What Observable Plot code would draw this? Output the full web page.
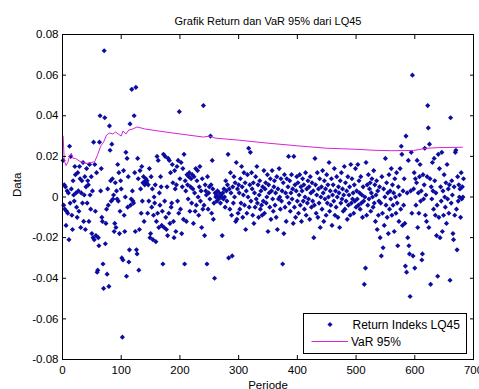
<!DOCTYPE html>
<html>
<head>
<meta charset="utf-8">
<script src="https://cdn.jsdelivr.net/npm/d3@7"></script>
<script src="https://cdn.jsdelivr.net/npm/@observablehq/plot@0.6"></script>
<style>
  html, body { margin: 0; padding: 0; background: white; }
  #chart { position: relative; width: 479px; height: 389px; overflow: hidden; }
</style>
</head>
<body>
<div id="chart"></div>
<script>
// Daily returns of LQ45 index, in thousandths (period = position + 1)
const returnPermil = [
  18,-4,6,-6,5,-14,-7,3,-8,2,-21,25,-3,20,4,-9,-16,8,1,-2,
  15,11,2,-5,-10,12,3,-7,15,9,-15,2,8,-3,17,-12,1,10,-16,5,
  14,-3,8,6,-12,16,1,-6,10,-18,3,-20,27,-21,16,-7,-19,12,-37,-36,
  -20,-24,27,40,3,14,-10,-12,-33,-45,72,39,-23,-13,-6,-38,4,-4,-44,35,
  23,8,-2,26,9,-1,1,-17,-13,7,-15,3,-1,16,-2,12,-18,-7,8,4,
  -30,-69,-31,13,-9,-17,0,22,-39,19,-5,10,-32,-26,36,-4,-1,53,3,-2,
  -3,40,12,-17,54,-26,-28,19,9,-36,-16,13,4,-8,15,-2,7,10,-12,6,
  8,9,7,8,-8,6,-2,14,-20,-18,10,-5,4,-21,-9,0,-3,6,-22,-12,
  20,-8,18,-15,2,-4,10,5,-14,-7,-33,21,-15,-2,20,-10,-16,5,-19,19,
  -8,18,-13,12,-5,-3,16,7,-12,-20,13,4,-17,6,15,-2,18,-8,42,9,
  -6,17,-18,5,14,-11,21,-33,8,3,-12,11,6,-1,10,12,-7,5,9,-3,
  11,4,-13,10,2,-7,14,-4,8,13,0,-9,5,15,-2,3,-15,9,-6,45,
  -4,-19,6,3,1,-33,10,-6,2,5,-1,30,6,-8,18,4,-11,-3,-40,2,
  0,1,-2,3,0,-1,2,0,-3,1,0,-19,2,-1,4,0,-5,8,3,-2,
  6,21,-30,4,-6,12,2,-9,-29,5,-3,10,0,7,-12,17,-11,4,-8,6,
  2,-6,9,-3,15,5,-10,1,12,-4,7,-16,3,-8,11,0,24,-5,6,22,
  -2,12,4,-9,7,-13,2,-5,10,-1,15,-3,6,-10,1,8,-6,3,-4,-9,
  5,-2,13,-8,4,7,-3,0,11,-17,6,2,-5,9,-11,3,13,-1,-7,5,
  8,-4,2,-10,10,-16,4,-1,14,0,-6,9,-2,3,-33,7,-18,11,-5,2,
  -12,9,0,5,20,-3,8,-7,2,11,-1,4,-13,20,-5,6,-10,3,10,-2,
  7,-8,1,11,-4,5,-12,3,9,-2,6,-6,0,12,-9,4,-3,8,-1,5,
  -11,10,2,-5,7,-2,3,-20,-4,19,6,-8,1,12,-10,4,-3,9,-15,0,
  5,-6,13,2,-12,8,-1,4,-9,11,-3,6,0,17,-7,3,-4,9,-14,1,
  6,-2,14,-9,3,-5,10,0,-10,5,2,-15,8,-3,12,-1,4,-7,1,15,
  -6,7,-2,3,-11,10,-4,1,5,-9,16,-3,9,-1,2,-8,6,-2,14,-5,
  3,-1,16,-4,8,2,-6,10,-3,1,-10,5,-2,-43,0,-35,17,-9,6,-4,
  11,-1,4,7,-7,2,9,0,-5,13,-3,6,-12,1,8,-16,3,-9,-2,5,
  -20,-3,-29,10,-8,-25,4,-14,0,19,-4,7,-10,2,-18,11,-6,3,-1,14,
  -9,6,-4,2,-17,9,0,-8,12,-3,-24,5,-12,1,14,-6,25,21,-14,3,
  -4,9,-13,-34,30,-37,2,-20,18,-24,-28,-49,3,22,-8,60,-29,4,12,-35,
  9,-4,7,18,-15,2,-8,10,16,-2,3,-31,-28,11,-1,6,24,-9,1,-12,
  10,45,34,-15,26,9,-43,5,-1,17,3,-6,19,8,-9,2,-19,-4,-39,21,
  -10,14,-20,5,-2,22,-17,3,-9,11,0,-5,7,-13,16,-1,4,-8,6,-41,
  39,-3,8,1,-18,-21,5,-9,22,23,-6,-26,10,-2,6,0,4,-10,12,-1,
  5,0,9
];

// VaR 95% line, read at its break points: periods and values
const varPeriode = [1,3,6,9,12,15,18,22,30,40,50,55,60,65,70,75,80,86,90,95,100,103,108,113,120,127,140,175,240,250,260,300,350,400,450,500,530,560,598,620,640,681];
const varValue   = [0.030,0.018,0.0155,0.017,0.020,0.0215,0.019,0.019,0.0175,0.0165,0.017,0.0175,0.021,0.025,0.027,0.0305,0.0315,0.031,0.032,0.031,0.030,0.0325,0.031,0.033,0.0335,0.0345,0.0335,0.032,0.0295,0.030,0.029,0.028,0.0265,0.0252,0.024,0.0235,0.023,0.0228,0.0229,0.024,0.0243,0.0245];

const xTicks = [0,100,200,300,400,500,600,700];
const yTicks = [-0.08,-0.06,-0.04,-0.02,0,0.02,0.04,0.06,0.08];

const titleText = "Grafik Return dan VaR 95% dari LQ45";
const xLabel = "Periode";
const yLabel = "Data";
const legendLabels = ["Return Indeks LQ45", "VaR 95%"];

const dotColor = "#0c0ca0";
const varColor = "#d424d4";

const returns = returnPermil.map((v, i) => ({periode: i + 1, ret: v / 1000}));
const varLine = varPeriode.map((p, i) => ({periode: p, value: varValue[i]}));

const fmtY = d => (Math.abs(d) < 1e-9 ? "0" : d.toFixed(2));

const plot = Plot.plot({
  width: 479,
  height: 389,
  marginLeft: 62,
  marginRight: 6,
  marginTop: 34,
  marginBottom: 30,
  x: {domain: [0, 700]},
  y: {domain: [-0.08, 0.08]},
  style: {fontFamily: "'Liberation Sans', Arial, sans-serif", fontSize: "11.5px", background: "white", color: "black"},
  marks: [
    Plot.dot(returns, {x: "periode", y: "ret", symbol: "square", rotate: 45, r: 2.05, fill: dotColor, stroke: "none"}),
    Plot.line(varLine, {x: "periode", y: "value", stroke: varColor, strokeWidth: 1}),
    Plot.frame({stroke: "black"}),
    Plot.axisX({ticks: xTicks, tickSize: -4, tickPadding: 10, label: null, tickFormat: d => String(d)}),
    Plot.axisX({anchor: "top", ticks: xTicks, tickSize: -4, tickFormat: () => "", label: null}),
    Plot.axisY({ticks: yTicks, tickSize: -4, tickPadding: 8, label: null, tickFormat: fmtY}),
    Plot.axisY({anchor: "right", ticks: yTicks, tickSize: -4, tickFormat: () => "", label: null}),
    Plot.text([titleText], {frameAnchor: "top", dy: -10, lineAnchor: "bottom", fontSize: 11, text: d => d}),
    Plot.text([xLabel], {frameAnchor: "bottom", dy: 21, lineAnchor: "top", fontSize: 11.5, text: d => d}),
    Plot.text([yLabel], {frameAnchor: "left", dx: -45, rotate: -90, fontSize: 11.5, text: d => d})
  ]
});

document.getElementById("chart").appendChild(plot);

// Legend (drawn into the same SVG)
const svg = d3.select(plot);
const lg = svg.append("g")
  .attr("font-family", "'Liberation Sans', Arial, sans-serif")
  .attr("font-size", 12)
  .attr("text-anchor", "start");
lg.append("rect").attr("x", 303.5).attr("y", 313.5).attr("width", 163).attr("height", 40)
  .attr("fill", "white").attr("stroke", "black");
lg.append("path").attr("d", d3.symbol(d3.symbolSquare, Math.PI * 2.05 * 2.05)())
  .attr("transform", "translate(330,324.5) rotate(45)").attr("fill", dotColor);
lg.append("text").attr("x", 352.5).attr("y", 324.5).attr("dy", "0.35em")
  .attr("text-anchor", "start").text(legendLabels[0]);
lg.append("line").attr("x1", 311.5).attr("x2", 348).attr("y1", 341.5).attr("y2", 341.5)
  .attr("stroke", varColor).attr("stroke-width", 1);
lg.append("text").attr("x", 351).attr("y", 341.5).attr("dy", "0.35em")
  .attr("text-anchor", "start").text(legendLabels[1]);
</script>
</body>
</html>
